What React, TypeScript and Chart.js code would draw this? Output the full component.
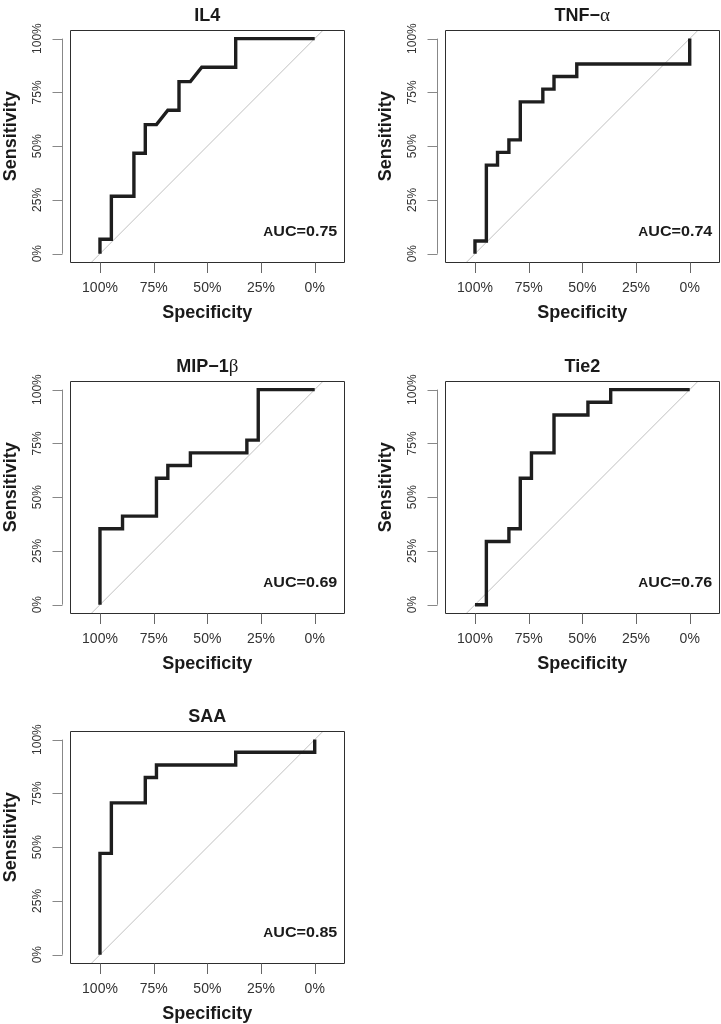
import React, { useEffect, useRef } from 'react';
import { Chart, registerables } from 'chart.js';

Chart.register(...registerables);

const FONT = '"Liberation Sans", Arial, Helvetica, sans-serif';

// ---- data ----
const TICK_VALUES = [0, 25, 50, 75, 100];
const TICK_LABELS = ['0%', '25%', '50%', '75%', '100%'];

const TITLE_MAIN = ['IL4', 'TNF\u2212', 'MIP\u22121', 'Tie2', 'SAA'];
const TITLE_GREEK = ['', '\u03B1', '\u03B2', '', ''];
const AUC_VALUES = [0.75, 0.74, 0.69, 0.76, 0.85];
const X_TITLE = 'Specificity';
const Y_TITLE = 'Sensitivity';

const IL4_SPEC = [100, 100, 94.7, 94.7, 84.2, 84.2, 78.9, 78.9, 73.7, 68.4, 63.2, 63.2, 57.9, 52.6, 36.8, 36.8, 0];
const IL4_SENS = [0, 6.7, 6.7, 26.7, 26.7, 46.7, 46.7, 60, 60, 66.7, 66.7, 80, 80, 86.7, 86.7, 100, 100];

const TNF_SPEC = [100, 100, 94.7, 94.7, 89.5, 89.5, 84.2, 84.2, 78.9, 78.9, 68.4, 68.4, 63.2, 63.2, 52.6, 52.6, 0, 0];
const TNF_SENS = [0, 5.9, 5.9, 41.2, 41.2, 47.1, 47.1, 52.9, 52.9, 70.6, 70.6, 76.5, 76.5, 82.4, 82.4, 88.2, 88.2, 100];

const MIP_SPEC = [100, 100, 89.5, 89.5, 73.7, 73.7, 68.4, 68.4, 57.9, 57.9, 31.6, 31.6, 26.3, 26.3, 0];
const MIP_SENS = [0, 35.3, 35.3, 41.2, 41.2, 58.8, 58.8, 64.7, 64.7, 70.6, 70.6, 76.5, 76.5, 100, 100];

const TIE2_SPEC = [100, 94.7, 94.7, 84.2, 84.2, 78.9, 78.9, 73.7, 73.7, 63.2, 63.2, 47.4, 47.4, 36.8, 36.8, 0];
const TIE2_SENS = [0, 0, 29.4, 29.4, 35.3, 35.3, 58.8, 58.8, 70.6, 70.6, 88.2, 88.2, 94.1, 94.1, 100, 100];

const SAA_SPEC = [100, 100, 94.7, 94.7, 78.9, 78.9, 73.7, 73.7, 36.8, 36.8, 0, 0];
const SAA_SENS = [0, 47.1, 47.1, 70.6, 70.6, 82.4, 82.4, 88.2, 88.2, 94.1, 94.1, 100];

// chance diagonal (sensitivity = 1 - specificity)
const DIAG_SPEC = [130, -30];
const DIAG_SENS = [-30, 130];

const SPECS = [IL4_SPEC, TNF_SPEC, MIP_SPEC, TIE2_SPEC, SAA_SPEC];
const SENSES = [IL4_SENS, TNF_SENS, MIP_SENS, TIE2_SENS, SAA_SENS];

// ---- layout ----
const CANVAS_H = 335;
const BOX_TOP = 30;
const BOX_BOTTOM = 262.3;
const BOX_LEFT = 69.7;
const BOX_RIGHT = 345;
const PANEL_POS = [
  { left: 0, top: 0, width: 360 },
  { left: 375, top: 0, width: 346 },
  { left: 0, top: 351, width: 360 },
  { left: 375, top: 351, width: 346 },
  { left: 0, top: 701, width: 360 },
];

function makeDecor(idx: number) {
  return {
    id: 'decor' + idx,
    afterDraw(chart: any) {
      const { ctx, chartArea: ca, scales } = chart;
      const xs = scales.x;
      const ys = scales.y;
      ctx.save();
      // box
      ctx.strokeStyle = '#2e2e2e';
      ctx.lineWidth = 1;
      const l = Math.round(ca.left) + 0.5;
      const t = Math.round(ca.top) + 0.5;
      const r = Math.round(ca.right) - 0.5;
      const b = Math.round(ca.bottom) + 0.5;
      ctx.beginPath();
      ctx.rect(l, t, r - l, b - t);
      ctx.stroke();
      // y axis line + ticks
      ctx.strokeStyle = '#888';
      const ax = Math.round(ca.left - 7.7) + 0.5;
      const y0 = ys.getPixelForValue(0);
      const y100 = ys.getPixelForValue(100);
      ctx.beginPath();
      ctx.moveTo(ax, y0);
      ctx.lineTo(ax, y100);
      TICK_VALUES.forEach((v) => {
        const py = Math.round(ys.getPixelForValue(v)) + 0.5;
        ctx.moveTo(ax, py);
        ctx.lineTo(ax - 10, py);
      });
      ctx.stroke();
      // x ticks
      ctx.strokeStyle = '#666';
      ctx.beginPath();
      TICK_VALUES.forEach((v) => {
        const px = Math.round(xs.getPixelForValue(v)) + 0.5;
        ctx.moveTo(px, b);
        ctx.lineTo(px, b + 10.5);
      });
      ctx.stroke();
      // y axis title
      ctx.save();
      ctx.fillStyle = '#1a1a1a';
      ctx.font = 'bold 18px ' + FONT;
      ctx.textAlign = 'center';
      ctx.textBaseline = 'middle';
      ctx.translate(11, (ca.top + ca.bottom) / 2 - 10);
      ctx.rotate(-Math.PI / 2);
      ctx.fillText(Y_TITLE, 0, 0);
      ctx.restore();
      // title
      const main = TITLE_MAIN[idx];
      const greek = TITLE_GREEK[idx];
      const fMain = 'bold 18px ' + FONT;
      const fGreek = '19px "Liberation Serif", "DejaVu Serif", serif';
      ctx.font = fMain;
      const wMain = ctx.measureText(main).width;
      ctx.font = fGreek;
      const wGreek = greek ? ctx.measureText(greek).width : 0;
      const cx = (ca.left + ca.right) / 2;
      const tx = cx - (wMain + wGreek) / 2;
      const ty = ca.top - 9;
      ctx.fillStyle = '#1a1a1a';
      ctx.textBaseline = 'alphabetic';
      ctx.textAlign = 'left';
      ctx.font = fMain;
      ctx.fillText(main, tx, ty);
      if (greek) {
        ctx.font = fGreek;
        ctx.fillText(greek, tx + wMain, ty);
      }
      // AUC label
      const xr = ca.right - 7.7;
      const yb = ca.bottom - 26;
      const rest = 'UC=' + AUC_VALUES[idx].toFixed(2);
      ctx.translate(xr, yb);
      ctx.scale(1.15, 1);
      ctx.textAlign = 'right';
      ctx.font = 'bold 14px ' + FONT;
      const wRest = ctx.measureText(rest).width;
      ctx.fillText(rest, 0, 0);
      ctx.font = 'bold 12px ' + FONT;
      ctx.fillText('A', -wRest, 0);
      ctx.restore();
    },
  };
}

function RocPanel({ idx }: { idx: number }) {
  const ref = useRef<HTMLCanvasElement>(null);
  const pos = PANEL_POS[idx];
  useEffect(() => {
    const canvas = ref.current!;
    const spec = SPECS[idx];
    const sens = SENSES[idx];
    const chart = new Chart(canvas, {
      type: 'scatter',
      data: {
        datasets: [
          {
            data: spec.map((s, i) => ({ x: s, y: sens[i] })),
            showLine: true,
            borderColor: '#1e1e1e',
            borderWidth: 3.4,
            pointRadius: 0,
            tension: 0,
            borderJoinStyle: 'miter',
            borderCapStyle: 'butt',
          },
          {
            data: DIAG_SPEC.map((s, i) => ({ x: s, y: DIAG_SENS[i] })),
            showLine: true,
            borderColor: '#c0c0c0',
            borderWidth: 1,
            pointRadius: 0,
            tension: 0,
          },
        ],
      } as any,
      options: {
        responsive: false,
        animation: false,
        devicePixelRatio: 1,
        layout: { padding: { top: BOX_TOP, right: pos.width - BOX_RIGHT, bottom: 0, left: 0 } },
        plugins: {
          legend: { display: false },
          tooltip: { enabled: false },
          title: { display: false },
        },
        scales: {
          x: {
            type: 'linear',
            reverse: true,
            min: -14.1,
            max: 114.1,
            afterBuildTicks: (s: any) => {
              s.ticks = TICK_VALUES.map((v) => ({ value: v }));
            },
            afterFit: (s: any) => {
              s.height = CANVAS_H - BOX_BOTTOM;
            },
            ticks: {
              callback: (_v: any, i: number) => TICK_LABELS[i],
              autoSkip: false,
              minRotation: 0,
              maxRotation: 0,
              padding: 17.8,
              color: '#333',
              font: { family: FONT, size: 14 },
            },
            grid: { display: false, drawTicks: false },
            border: { display: false },
            title: {
              display: true,
              text: X_TITLE,
              color: '#1a1a1a',
              font: { family: FONT, size: 18, weight: 'bold' },
              padding: { top: 0, bottom: 11.2 },
            },
          },
          y: {
            type: 'linear',
            min: -4,
            max: 104,
            afterBuildTicks: (s: any) => {
              s.ticks = TICK_VALUES.map((v) => ({ value: v }));
            },
            afterFit: (s: any) => {
              s.width = BOX_LEFT;
            },
            ticks: {
              callback: (_v: any, i: number) => TICK_LABELS[i],
              autoSkip: false,
              minRotation: 90,
              maxRotation: 90,
              crossAlign: 'center',
              padding: 17.0,
              color: '#333',
              font: { family: FONT, size: 12 },
            },
            grid: { display: false, drawTicks: false },
            border: { display: false },
            title: { display: false },
          },
        },
      } as any,
      plugins: [makeDecor(idx)],
    });
    return () => chart.destroy();
  }, [idx]);
  return (
    <canvas
      ref={ref}
      width={pos.width}
      height={CANVAS_H}
      style={{ position: 'absolute', left: pos.left, top: pos.top, width: pos.width, height: CANVAS_H }}
    />
  );
}

export default function App() {
  return (
    <div
      style={{
        position: 'fixed',
        left: 0,
        top: 0,
        width: 721,
        height: 1024,
        overflow: 'hidden',
        background: '#fff',
      }}
    >
      {PANEL_POS.map((_, i) => (
        <RocPanel key={i} idx={i} />
      ))}
    </div>
  );
}
